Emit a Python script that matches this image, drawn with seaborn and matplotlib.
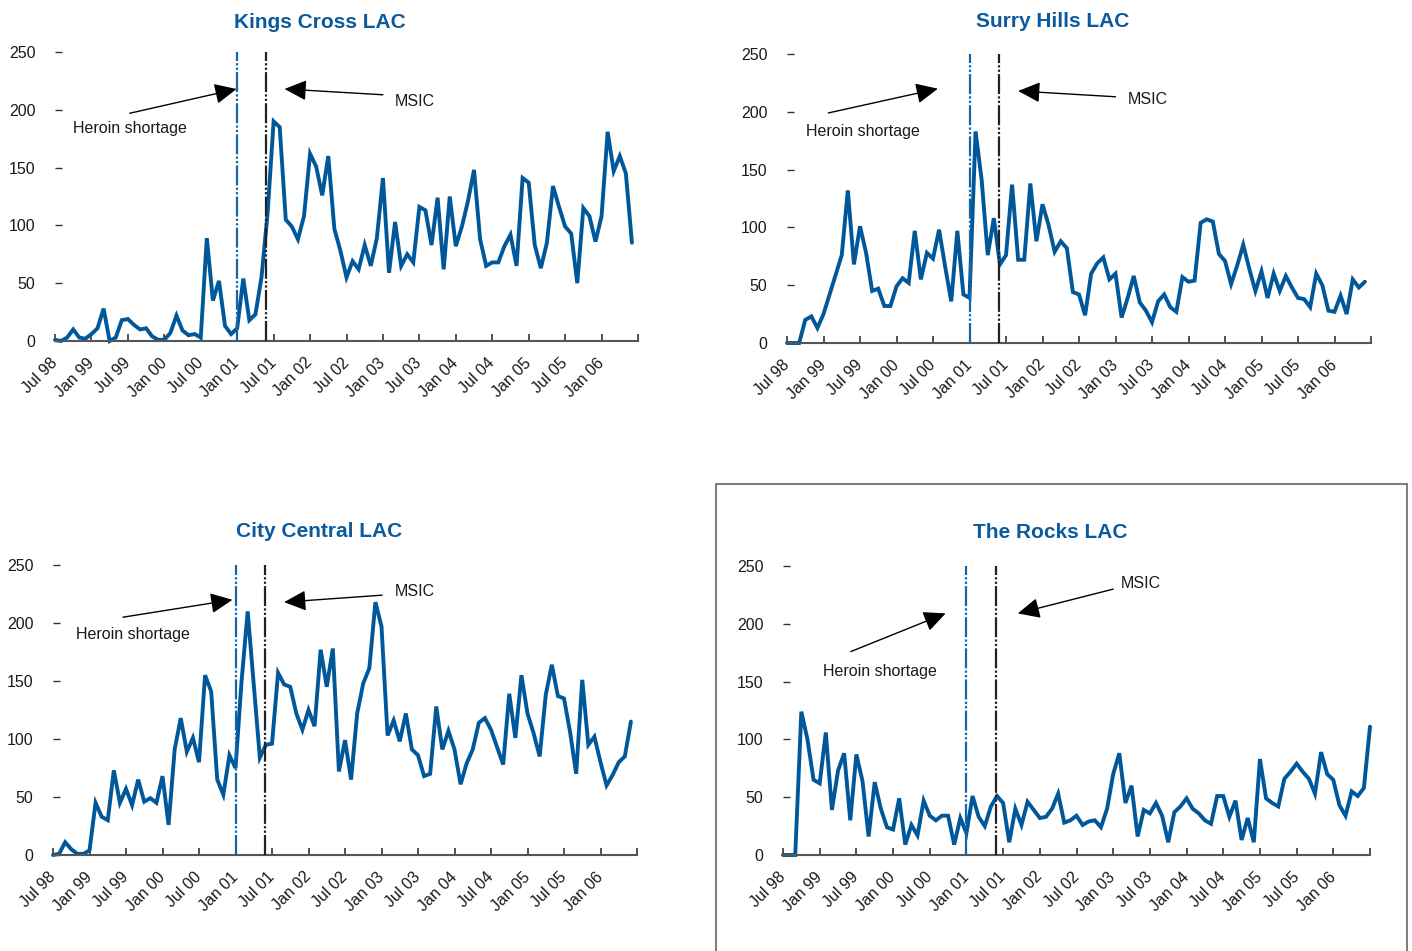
import matplotlib
matplotlib.use('Agg')
import matplotlib.pyplot as plt
import seaborn as sns
import pandas as pd
from matplotlib.patches import Rectangle

sns.set_theme(style='white')
NARROW = ['Liberation Sans Narrow', 'Liberation Sans', 'DejaVu Sans']
plt.rcParams['font.family'] = NARROW

# ---------------- data ----------------
tick_labels = ['Jul 98', 'Jan 99', 'Jul 99', 'Jan 00', 'Jul 00', 'Jan 01', 'Jul 01', 'Jan 02',
               'Jul 02', 'Jan 03', 'Jul 03', 'Jan 04', 'Jul 04', 'Jan 05', 'Jul 05', 'Jan 06']

kings_cross = [1, 0, 3, 10, 3, 2, 6, 11, 28, 0,
               3, 18, 19, 14, 10, 11, 4, 1, 1, 7,
               22, 9, 5, 6, 3, 89, 35, 52, 13, 6,
               11, 54, 18, 23, 55, 110, 190, 185, 105, 99,
               88, 108, 162, 151, 126, 160, 97, 78, 55, 69,
               62, 83, 65, 89, 141, 59, 103, 65, 75, 68,
               116, 113, 83, 124, 62, 125, 82, 99, 121, 148,
               88, 65, 68, 68, 82, 92, 65, 141, 137, 83,
               63, 85, 134, 116, 99, 93, 50, 115, 108, 86,
               108, 181, 147, 160, 145, 85]

surry_hills = [0, 0, 0, 20, 23, 13, 25, 42, 59, 76,
               132, 68, 101, 78, 45, 47, 32, 32, 49, 56,
               52, 97, 55, 78, 73, 98, 66, 36, 97, 42,
               39, 183, 141, 76, 108, 68, 76, 137, 72, 72,
               138, 88, 120, 102, 79, 88, 82, 44, 42, 24,
               60, 69, 74, 55, 60, 22, 39, 58, 35, 28,
               18, 36, 42, 31, 27, 57, 53, 54, 104, 107,
               105, 77, 71, 51, 67, 85, 64, 45, 62, 39,
               60, 45, 58, 48, 39, 38, 31, 60, 50, 28,
               27, 41, 25, 55, 48, 53]

city_central = [0, 1, 11, 5, 1, 1, 4, 45, 33, 30,
                73, 45, 57, 43, 65, 46, 49, 45, 68, 26,
                91, 118, 89, 101, 80, 155, 141, 65, 52, 86,
                75, 150, 210, 147, 84, 95, 96, 157, 147, 145,
                122, 108, 125, 111, 177, 145, 178, 72, 99, 65,
                122, 148, 161, 218, 197, 103, 116, 98, 122, 91,
                86, 68, 70, 128, 91, 107, 91, 61, 79, 91,
                114, 118, 108, 93, 78, 139, 101, 155, 122, 105,
                85, 138, 164, 137, 135, 106, 70, 151, 95, 102,
                80, 60, 69, 80, 85, 115]

the_rocks = [0, 0, 0, 124, 100, 65, 62, 106, 39, 73,
             88, 30, 87, 64, 16, 63, 40, 24, 22, 49,
             9, 26, 17, 47, 34, 30, 34, 34, 9, 32,
             19, 51, 33, 25, 42, 51, 45, 11, 40, 26,
             46, 39, 32, 33, 40, 53, 28, 30, 34, 26,
             29, 30, 24, 40, 70, 88, 45, 60, 16, 39,
             36, 45, 34, 11, 37, 42, 49, 40, 36, 30,
             27, 51, 51, 33, 47, 13, 32, 11, 83, 49,
             45, 42, 66, 72, 79, 72, 66, 53, 89, 70,
             65, 43, 34, 55, 51, 58, 111]

titles = ['Kings Cross LAC', 'Surry Hills LAC', 'City Central LAC', 'The Rocks LAC']
heroin_shortage_month = 30      # Jan 01 (months since Jul 98)
msic_month = 34.8               # MSIC opening (May 01)

# ---------------- layout / style ----------------
W, H = 1412, 951
LINE = '#00589B'
TITLE_C = '#0B5A9E'
HEROIN_C = '#1464AA'
FS = 11.5

# axes boxes in pixels: left, right, top(250), bottom(0)
boxes = [(55, 638, 52, 341), (787, 1371, 54, 343), (53, 637, 565, 855), (783, 1370, 566, 855)]
title_y = [1.103, 1.112, 1.116, 1.116]

# annotation placements (data coords)
ann = [
    dict(h_txt=(3.0, 184), h_tail=(12.3, 197), h_tip=(29.9, 218),
         m_txt=(55.9, 207), m_tail=(54.0, 213), m_tip=(37.8, 218)),
    dict(h_txt=(3.2, 183), h_tail=(6.8, 199), h_tip=(24.8, 220),
         m_txt=(56.0, 211), m_tail=(54.0, 213), m_tip=(38.0, 218)),
    dict(h_txt=(3.7, 190), h_tail=(11.5, 205), h_tip=(29.5, 220),
         m_txt=(56.2, 227), m_tail=(54.1, 224), m_tip=(38.0, 218)),
    dict(h_txt=(6.5, 159), h_tail=(11.1, 176), h_tip=(26.6, 209),
         m_txt=(55.3, 235), m_tail=(54.0, 230), m_tip=(38.4, 209)),
]

series = [kings_cross, surry_hills, city_central, the_rocks]

fig = plt.figure(figsize=(W / 100, H / 100), dpi=100)

for vals, title, (l, r, t, b), a, ty in zip(series, titles, boxes, ann, title_y):
    ax = fig.add_axes([l / W, 1 - b / H, (r - l) / W, (b - t) / H])
    df = pd.DataFrame({'month': list(range(len(vals))), 'incidents': vals})
    sns.lineplot(data=df, x='month', y='incidents', ax=ax, color=LINE, lw=2.8,
                 clip_on=False, solid_joinstyle='miter')
    ax.set_xlim(0, 96)
    ax.set_ylim(0, 250)

    ax.plot([heroin_shortage_month] * 2, [0, 250], color=HEROIN_C, lw=1.6,
            ls=(0, (9, 1, 1, 1, 1, 1)), clip_on=False, zorder=3)
    ax.plot([msic_month] * 2, [0, 250], color='#222222', lw=1.6,
            ls=(0, (9, 1, 1, 1, 1, 1)), clip_on=False, zorder=3)

    arrow = dict(arrowstyle='-|>,head_length=0.9,head_width=0.42', color='black',
                 lw=1.0, mutation_scale=15, shrinkA=0, shrinkB=0)
    ax.annotate('', xy=a['h_tip'], xytext=a['h_tail'], arrowprops=arrow, annotation_clip=False)
    ax.annotate('', xy=a['m_tip'], xytext=a['m_tail'], arrowprops=arrow, annotation_clip=False)
    ax.text(*a['h_txt'], 'Heroin shortage', fontsize=FS, va='center', ha='left', color='#1a1a1a')
    ax.text(*a['m_txt'], 'MSIC', fontsize=FS, va='center', ha='left', color='#1a1a1a')

    ax.text(0.455, ty, title, transform=ax.transAxes, ha='center', va='center',
            fontsize=15, fontweight='bold', color=TITLE_C,
            family=['Liberation Sans', 'DejaVu Sans'])

    ax.set_yticks([0, 50, 100, 150, 200, 250])
    ax.set_xticks(list(range(0, 97, 6)))
    ax.set_xticklabels(tick_labels + [''], rotation=45, ha='right', va='center',
                       rotation_mode='anchor')
    ax.set_xlabel('')
    ax.set_ylabel('')
    for s in ('top', 'right', 'left'):
        ax.spines[s].set_visible(False)
    ax.spines['bottom'].set_color('#555555')
    ax.spines['bottom'].set_linewidth(1.5)
    ax.tick_params(axis='y', direction='in', length=5, width=1, color='#333333',
                   pad=14, labelsize=FS, left=True, labelcolor='#1a1a1a')
    ax.tick_params(axis='x', direction='in', length=5, width=1.2, color='#333333',
                   pad=14, labelsize=FS, bottom=True, labelcolor='#1a1a1a')
    ax.grid(False)
    ax.set_facecolor('none')

# border around the last panel (as in the source)
fig.patches.append(Rectangle((716 / W, -0.01), (1407 - 716) / W, (951 - 484) / H + 0.01,
                             transform=fig.transFigure, fill=False, edgecolor='#7f7f7f', lw=1.5))

fig.savefig('out.png', dpi=100)
